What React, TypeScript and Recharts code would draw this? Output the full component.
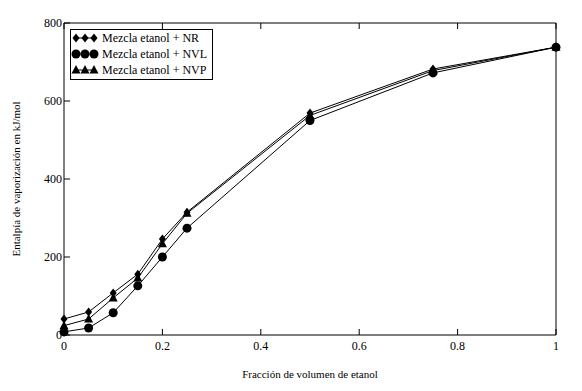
import React from "react";
import {
  LineChart,
  Line,
  XAxis,
  YAxis,
} from "recharts";

const fractions = [0, 0.05, 0.1, 0.15, 0.2, 0.25, 0.5, 0.75, 1];
const nrValues = [41, 59, 108, 156, 246, 315, 569, 682, 738];
const nvlValues = [8, 18, 57, 126, 200, 274, 550, 672, 738];
const nvpValues = [24, 41, 95, 146, 234, 312, 563, 678, 738];

const xTicks = [0, 0.2, 0.4, 0.6, 0.8, 1];
const yTicks = [0, 200, 400, 600, 800];

const seriesNames = ["Mezcla etanol + NR", "Mezcla etanol + NVL", "Mezcla etanol + NVP"];

const data = fractions.map((f, i) => ({
  f,
  nr: nrValues[i],
  nvl: nvlValues[i],
  nvp: nvpValues[i],
}));

const FONT = "Liberation Serif, DejaVu Serif, serif";
const txt = { fontFamily: FONT };
const TICK_LEN = 6;

// marker shapes
const Diamond = ({ cx, cy }: any) =>
  cx == null ? null : (
    <path d={`M${cx},${cy - 4.5} L${cx + 3.5},${cy} L${cx},${cy + 4.5} L${cx - 3.5},${cy} Z`} fill="#000" />
  );
const Circle = ({ cx, cy }: any) =>
  cx == null ? null : <circle cx={cx} cy={cy} r={4.5} fill="#000" />;
const Triangle = ({ cx, cy }: any) =>
  cx == null ? null : (
    <path d={`M${cx},${cy - 5} L${cx + 4.5},${cy + 3.5} L${cx - 4.5},${cy + 3.5} Z`} fill="#000" />
  );

const BottomTick = ({ x, y, payload }: any) => (
  <g>
    <line x1={x} y1={y} x2={x} y2={y - TICK_LEN} stroke="#000" />
    <text x={x} y={y + 15} textAnchor="middle" fontSize={12} style={txt} fill="#000">
      {payload.value}
    </text>
  </g>
);
const TopTick = ({ x, y }: any) => (
  <line x1={x} y1={y} x2={x} y2={y + TICK_LEN} stroke="#000" />
);
const LeftTick = ({ x, y, payload }: any) => (
  <g>
    <line x1={x} y1={y} x2={x + TICK_LEN} y2={y} stroke="#000" />
    <text x={x - 2} y={y + 4} textAnchor="end" fontSize={12} style={txt} fill="#000">
      {payload.value}
    </text>
  </g>
);
const RightTick = ({ x, y }: any) => (
  <line x1={x} y1={y} x2={x - TICK_LEN} y2={y} stroke="#000" />
);

const LegendBox = () => {
  const shapes = [Diamond, Circle, Triangle];
  return (
    <svg width={143} height={51} style={{ display: "block" }}>
      <rect x={0.5} y={0.5} width={142} height={50} fill="#fff" stroke="#000" />
      {seriesNames.map((name, i) => {
        const Shape = shapes[i];
        const cy = 9 + i * 16;
        return (
          <g key={name}>
            <line x1={5} y1={cy} x2={25} y2={cy} stroke="#000" />
            <Shape cx={6} cy={cy} />
            <Shape cx={15} cy={cy} />
            <Shape cx={24} cy={cy} />
            <text x={32} y={cy + 4} fontSize={12} style={txt} fill="#000">
              {name}
            </text>
          </g>
        );
      })}
    </svg>
  );
};

export default function App() {
  return (
    <div style={{ position: "absolute", left: 0, top: 0, width: 582, height: 391, background: "#fff" }}>
      <LineChart
        width={582}
        height={391}
        data={data}
        margin={{ top: 0, right: 0, bottom: 0, left: 0 }}
      >
        <XAxis
          xAxisId="b"
          dataKey="f"
          type="number"
          domain={[0, 1]}
          ticks={xTicks}
          tickLine={false}
          tickSize={0}
          tickMargin={0}
          tick={<BottomTick />}
          axisLine={{ stroke: "#000" }}
          height={56}
        />
        <XAxis
          xAxisId="t"
          orientation="top"
          dataKey="f"
          type="number"
          domain={[0, 1]}
          ticks={xTicks}
          tickLine={false}
          tickSize={0}
          tickMargin={0}
          tick={<TopTick />}
          axisLine={{ stroke: "#000" }}
          height={23}
        />
        <YAxis
          yAxisId="l"
          type="number"
          domain={[0, 800]}
          ticks={yTicks}
          tickLine={false}
          tickSize={0}
          tickMargin={0}
          tick={<LeftTick />}
          axisLine={{ stroke: "#000" }}
          width={64}
        />
        <YAxis
          yAxisId="r"
          orientation="right"
          type="number"
          domain={[0, 800]}
          ticks={yTicks}
          tickLine={false}
          tickSize={0}
          tickMargin={0}
          tick={<RightTick />}
          axisLine={{ stroke: "#000" }}
          width={26}
        />
        <Line xAxisId="b" yAxisId="l" dataKey="nr" stroke="#000" strokeWidth={1} dot={<Diamond />} activeDot={false} isAnimationActive={false} />
        <Line xAxisId="b" yAxisId="l" dataKey="nvl" stroke="#000" strokeWidth={1} dot={<Circle />} activeDot={false} isAnimationActive={false} />
        <Line xAxisId="b" yAxisId="l" dataKey="nvp" stroke="#000" strokeWidth={1} dot={<Triangle />} activeDot={false} isAnimationActive={false} />
        <text x={20} y={179} transform="rotate(-90 20 179)" textAnchor="middle" fontSize={11} style={txt} fill="#000">
          Entalpía de vaporización en kJ/mol
        </text>
        <text x={310} y={378} textAnchor="middle" fontSize={11} style={txt} fill="#000">
          Fracción de volumen de etanol
        </text>
      </LineChart>
      <div style={{ position: "absolute", left: 70, top: 29 }}>
        <LegendBox />
      </div>
    </div>
  );
}
